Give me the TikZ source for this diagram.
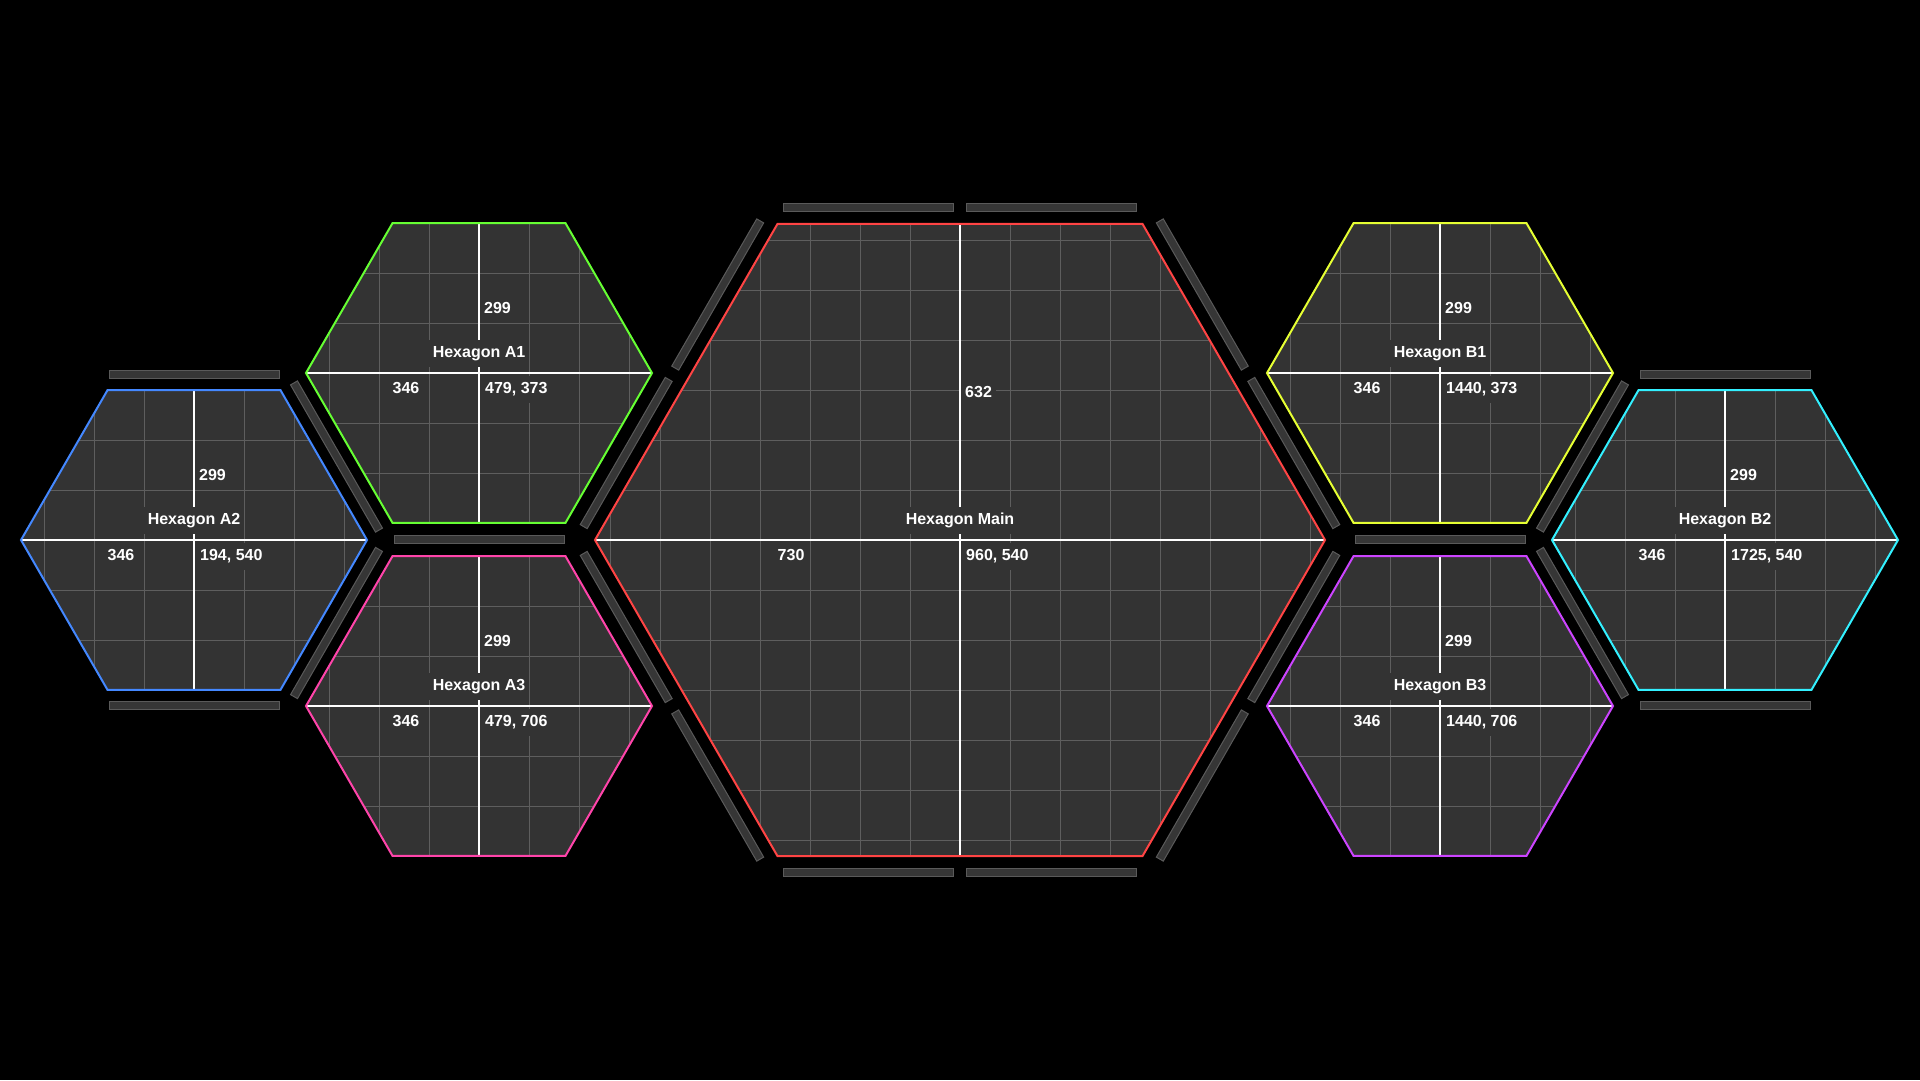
\documentclass[tikz,border=0pt]{standalone}
\usepackage{fontspec}
\setmainfont{Liberation Sans}
\usetikzlibrary{calc}
\definecolor{hexbg}{HTML}{333333}
\definecolor{gridc}{HTML}{5E5E5E}
\definecolor{barfill}{HTML}{363636}
\definecolor{barline}{HTML}{5A5A5A}
\definecolor{cMain}{HTML}{FF4444}
\definecolor{cAone}{HTML}{66FF33}
\definecolor{cAtwo}{HTML}{4488FF}
\definecolor{cAthree}{HTML}{FF44AA}
\definecolor{cBone}{HTML}{E6FF33}
\definecolor{cBtwo}{HTML}{33F0FF}
\definecolor{cBthree}{HTML}{CC44FF}
\tikzset{
  gridline/.style={draw=gridc, line width=1pt},
  axisline/.style={draw=white, line width=1.2pt},
  hexoutline/.style={line width=2pt, line join=miter},
  lbl/.style={text=white, font=\fontsize{16}{19}\selectfont\bfseries, inner xsep=4pt, inner ysep=6pt, text height=12pt, text depth=3.5pt},
  barbox/.style={draw=barline, fill=barfill, line width=1pt, minimum width=170pt, minimum height=8pt, inner sep=0pt, shape=rectangle},
}
% #1 name, #2 cx, #3 cy, #4 R, #5 colour, #6 title, #7 position text, #8 width text, #9 height text
\newcommand{\hexcell}[9]{%
  \pgfmathsetmacro\hR{#4}%
  \pgfmathsetmacro\hA{#4*0.8660254}%
  \pgfmathsetmacro\hH{#4/2}%
  \coordinate (#1) at (#2,#3);
  \fill[hexbg] (#2+\hR,#3) -- (#2+\hH,#3-\hA) -- (#2-\hH,#3-\hA) -- (#2-\hR,#3) -- (#2-\hH,#3+\hA) -- (#2+\hH,#3+\hA) -- cycle;
  \begin{scope}
    \clip (#2+\hR,#3) -- (#2+\hH,#3-\hA) -- (#2-\hH,#3-\hA) -- (#2-\hR,#3) -- (#2-\hH,#3+\hA) -- (#2+\hH,#3+\hA) -- cycle;
    \foreach \k in {-8,...,8} {
      \draw[gridline] (#2+50*\k,#3-\hA-2) -- (#2+50*\k,#3+\hA+2);
      \draw[gridline] (#2-\hR-2,#3+50*\k) -- (#2+\hR+2,#3+50*\k);
    }
  \end{scope}
  \draw[axisline] (#2-\hR,#3) -- (#2+\hR,#3);
  \draw[axisline] (#2,#3-\hA) -- (#2,#3+\hA);
  \node[lbl, fill=hexbg] (#1-title) at (#2,#3-19.5) {#6};
  \node[lbl, fill=hexbg, anchor=west] (#1-pos) at (#2+2,#3+16.5) {#7};
  \node[lbl, fill=hexbg, anchor=west] (#1-w) at (#2-\hH-4,#3+16.5) {#8};
  \node[lbl, fill=hexbg, anchor=west] (#1-h) at (#2+1,#3-\hA/2+11.5) {#9};
  \draw[hexoutline, draw=#5] (#2+\hR,#3) -- (#2+\hH,#3-\hA) -- (#2-\hH,#3-\hA) -- (#2-\hR,#3) -- (#2-\hH,#3+\hA) -- (#2+\hH,#3+\hA) -- cycle;
}
\begin{document}
\begin{tikzpicture}[x=1pt,y=-1pt]
\fill[black] (0,0) rectangle (1920,1080);
\useasboundingbox (0,0) rectangle (1920,1080);

% frame bars of the main hexagon
\node[barbox] (mt1) at (868.5,207.4) {};
\node[barbox] (mt2) at (1051.5,207.4) {};
\node[barbox] (mb1) at (868.5,872.6) {};
\node[barbox] (mb2) at (1051.5,872.6) {};
\node[barbox, rotate=-60] (mur1) at (1202.3,294.5) {};
\node[barbox, rotate=-60] (mur2) at (1293.8,453.0) {};
\node[barbox, rotate=60] (mlr1) at (1293.8,627.0) {};
\node[barbox, rotate=60] (mlr2) at (1202.3,785.5) {};
\node[barbox, rotate=-60] (mll1) at (626.2,627.0) {};
\node[barbox, rotate=-60] (mll2) at (717.7,785.5) {};
\node[barbox, rotate=60] (mul1) at (717.7,294.5) {};
\node[barbox, rotate=60] (mul2) at (626.2,453.0) {};

% bars of the small hexagons
\node[barbox] (a2t) at (194,374.5) {};
\node[barbox] (a2b) at (194,705.5) {};
\node[barbox, rotate=-60] (a2a1) at (336.5,456.5) {};
\node[barbox, rotate=60] (a2a3) at (336.5,623.0) {};
\node[barbox] (a1a3) at (479,539.5) {};
\node[barbox] (b1b3) at (1440,539.5) {};
\node[barbox, rotate=60] (b1b2) at (1582.5,456.5) {};
\node[barbox, rotate=-60] (b3b2) at (1582.5,623.0) {};
\node[barbox] (b2t) at (1725,374.5) {};
\node[barbox] (b2b) at (1725,705.5) {};

\hexcell{hmain}{960}{540}{365}{cMain}{Hexagon Main}{960, 540}{730}{632}
\hexcell{ha1}{479}{373}{173}{cAone}{Hexagon A1}{479, 373}{346}{299}
\hexcell{ha2}{194}{540}{173}{cAtwo}{Hexagon A2}{194, 540}{346}{299}
\hexcell{ha3}{479}{706}{173}{cAthree}{Hexagon A3}{479, 706}{346}{299}
\hexcell{hb1}{1440}{373}{173}{cBone}{Hexagon B1}{1440, 373}{346}{299}
\hexcell{hb2}{1725}{540}{173}{cBtwo}{Hexagon B2}{1725, 540}{346}{299}
\hexcell{hb3}{1440}{706}{173}{cBthree}{Hexagon B3}{1440, 706}{346}{299}
\end{tikzpicture}
\end{document}
